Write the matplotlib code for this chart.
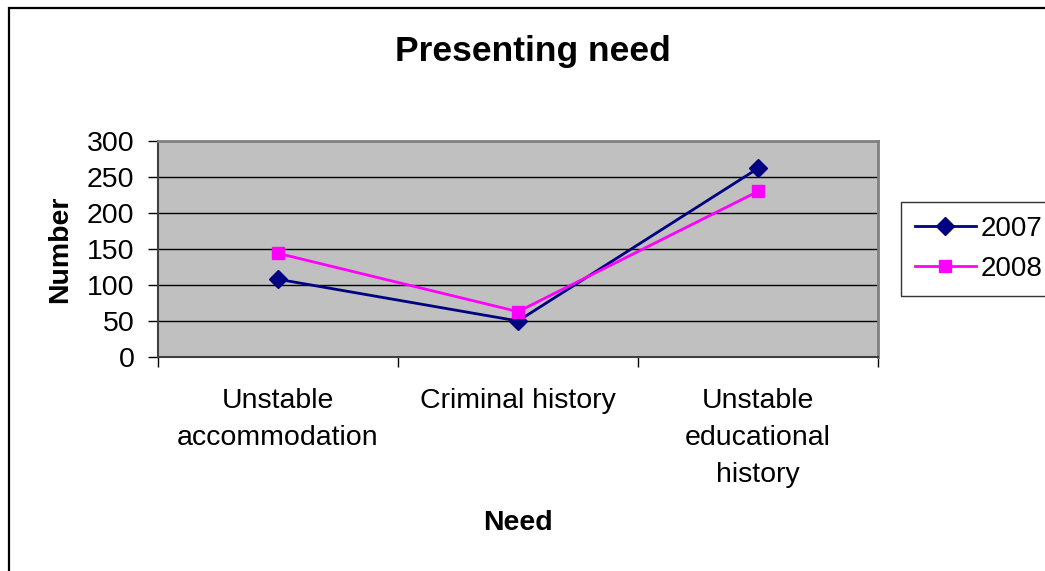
import matplotlib.pyplot as plt
import matplotlib.patches as mpatches

# ── Data ──────────────────────────────────────────────────────────────────────
categories = ["Unstable\naccommodation", "Criminal history",
              "Unstable\neducational\nhistory"]
values_2007 = [108, 50, 262]
values_2008 = [144, 63, 230]
y_ticks = [0, 50, 100, 150, 200, 250, 300]

# ── Style ─────────────────────────────────────────────────────────────────────
C_2007 = "#000080"
C_2008 = "#FF00FF"
C_PLOT_BG = "#C0C0C0"
FONT = "Liberation Sans"
FS = 20.5

plt.rcParams["font.family"] = [FONT, "DejaVu Sans"]

fig = plt.figure(figsize=(10.45, 5.71), dpi=100)
ax = fig.add_axes([158 / 1045, 1 - 357 / 571, 720 / 1045, 216 / 571])
ax.set_facecolor(C_PLOT_BG)

x = list(range(len(categories)))
ax.plot(x, values_2007, color=C_2007, lw=2.0, marker="D", markersize=9,
        label="2007", zorder=3)
ax.plot(x, values_2008, color=C_2008, lw=2.0, marker="s", markersize=9,
        label="2008", zorder=3)

# axes & grid
ax.set_xlim(-0.5, len(categories) - 0.5)
ax.set_ylim(0, 300)
ax.set_yticks(y_ticks)
ax.set_yticklabels([str(v) for v in y_ticks])
for v in y_ticks[1:-1]:
    ax.axhline(v, color="black", lw=1.0, zorder=1)

ax.set_xticks(x)
ax.set_xticklabels(categories, fontsize=FS, linespacing=1.55)
ax.set_xticks([i - 0.5 for i in range(len(categories) + 1)], minor=True)
ax.tick_params(axis="x", which="major", length=0, pad=22)
ax.tick_params(axis="x", which="minor", length=7, width=1, color="black")
ax.tick_params(axis="y", length=7, width=1, pad=10, labelsize=FS)

for side in ["top", "right"]:
    ax.spines[side].set_color("#808080")
    ax.spines[side].set_linewidth(2)
for side in ["left", "bottom"]:
    ax.spines[side].set_color("#404040")
    ax.spines[side].set_linewidth(1.5)

ax.set_ylabel("Number", fontsize=FS, fontweight="bold", labelpad=10)
fig.text(518 / 1045, 1 - 523 / 571, "Need", fontsize=FS, fontweight="bold",
         ha="center", va="center")
fig.text(533 / 1045, 1 - 52 / 571, "Presenting need", fontsize=25.5,
         fontweight="bold", ha="center", va="center")

# legend sits outside the plot area, right side
leg = fig.legend(loc="upper left", bbox_to_anchor=(901 / 1045, 1 - 202 / 571),
                 fontsize=20, frameon=True, fancybox=False,
                 handlelength=2.2, handletextpad=0.15, borderpad=0.5,
                 labelspacing=0.5, borderaxespad=0)
leg.get_frame().set_edgecolor("black")
leg.get_frame().set_linewidth(1.0)

# chart-area border (runs off the right and bottom edges)
top = 1 - 8 / 571
fig.patches.append(mpatches.Rectangle(
    (9 / 1045, -0.2), 1.2, top + 0.2, transform=fig.transFigure,
    fill=False, edgecolor="black", lw=1.6, clip_on=False))

fig.savefig("out.png", dpi=100, facecolor="white")
